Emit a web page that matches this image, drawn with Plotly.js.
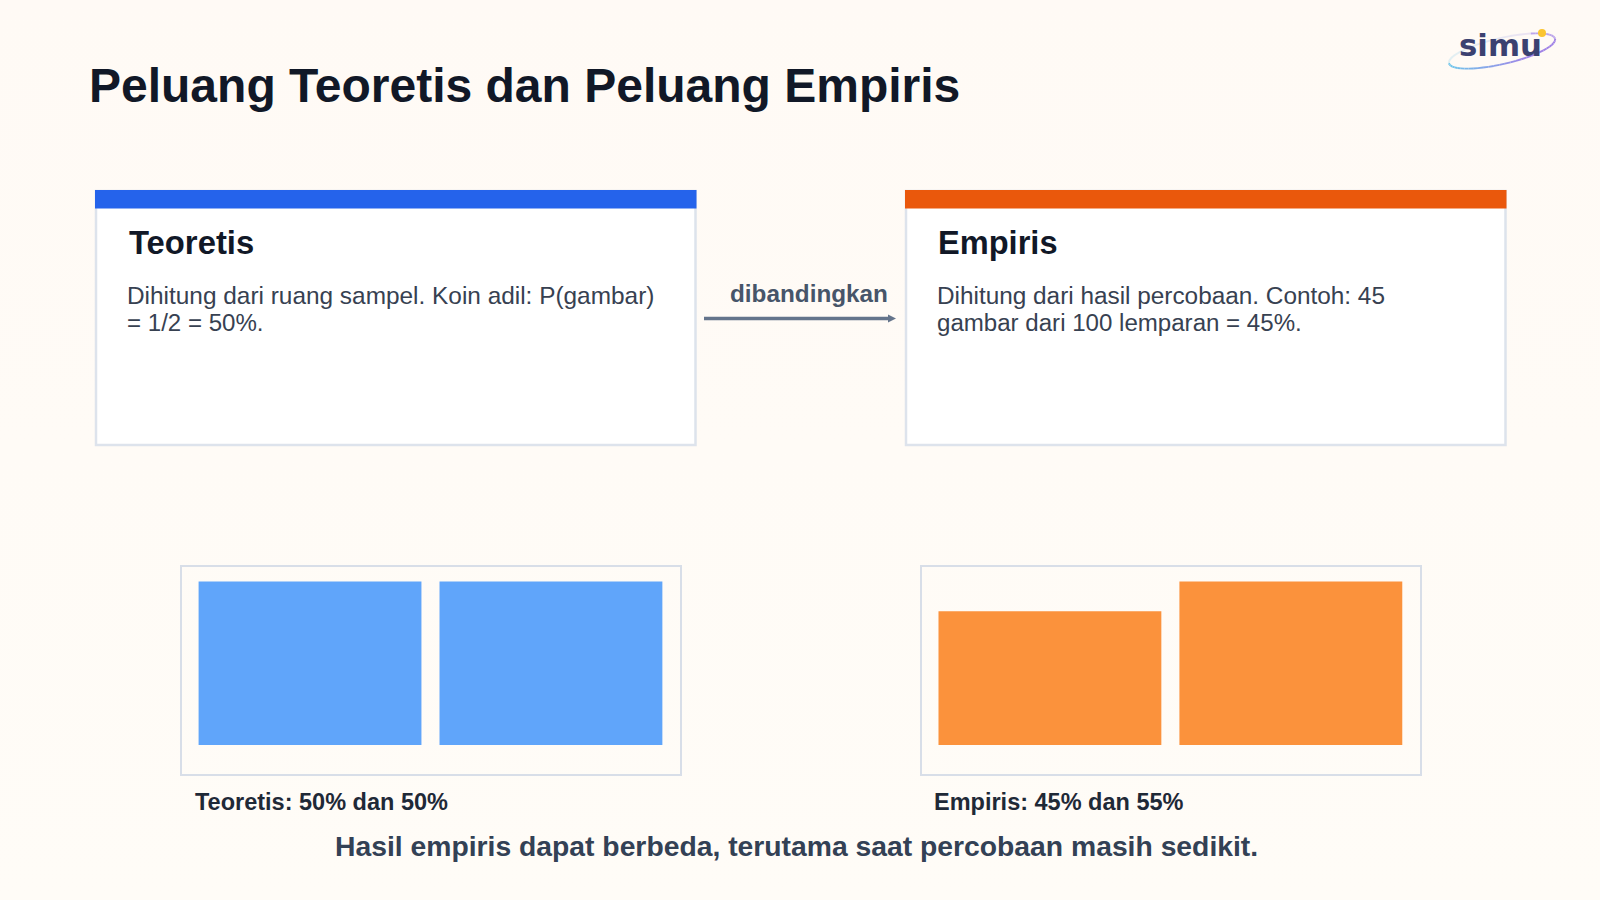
<!DOCTYPE html>
<html><head><meta charset="utf-8">
<script src="https://cdn.plot.ly/plotly-3.0.1.min.js"></script>
<style>html,body{margin:0;padding:0;background:linear-gradient(#fffaf5,#fffcf7);overflow:hidden;height:900px}#c{width:1600px;height:900px}</style>
</head><body><div id="c"></div>
<script>
const categories = ['Gambar', 'Angka'];
const teoretisValues = [50, 50];
const empirisValues = [45, 55];
const titleText = 'Peluang Teoretis dan Peluang Empiris';
const cardTitles = ['Teoretis', 'Empiris'];
const cardLines = [['Dihitung dari ruang sampel. Koin adil: P(gambar)', '= 1/2 = 50%.'],
                   ['Dihitung dari hasil percobaan. Contoh: 45', 'gambar dari 100 lemparan = 45%.']];
const compareLabel = 'dibandingkan';
const captions = ['Teoretis: 50% dan 50%', 'Empiris: 45% dan 55%'];
const footer = 'Hasil empiris dapat berbeda, terutama saat percobaan masih sedikit.';
const logoText = 'simu';

const W = 1600, H = 900;
const FONT = '"Liberation Sans", Arial, sans-serif';
const px = x => x / W, py = y => 1 - y / H;
const rect = (x0, y0, x1, y1, fill, line, lw) => ({type:'rect', xref:'paper', yref:'paper',
  x0:px(x0), x1:px(x1), y0:py(y0), y1:py(y1), fillcolor:fill, line:{color:line||fill, width:lw===undefined?0:lw}, layer:'below'});
const text = (t, x, y, size, color, bold, family) => ({text: t, xref:'paper', yref:'paper', x:px(x), y:py(y),
  xanchor:'left', yanchor:'middle', showarrow:false, align:'left', borderpad:0,
  font:{family:family||FONT, size, color, weight: bold?700:400}});

const shapes = [
  rect(96,191,695.5,445,'#ffffff','#dde3ec',2.5), rect(95,190,696.5,208.5,'#2563eb'),
  rect(906,191,1505.5,445,'#ffffff','#dde3ec',2.5), rect(905,190,1506.5,208.5,'#ea580c'),
  {type:'line', xref:'paper', yref:'paper', x0:px(704), x1:px(890), y0:py(318.5), y1:py(318.5), line:{color:'#64748b', width:3.5}},
  {type:'path', xref:'paper', yref:'paper', path:`M${px(888)},${py(314.5)} L${px(896)},${py(318.5)} L${px(888)},${py(322.5)} Z`, fillcolor:'#64748b', line:{width:0}}
];

// logo swoosh: tilted ellipse drawn as short coloured segments
(function(){
  const cx=1502, cy=51, a=54.5, b=13, tilt=-13*Math.PI/180, n=60;
  const pt=t=>{const u=a*Math.cos(t), v=b*Math.sin(t);
    return [cx+u*Math.cos(tilt)-v*Math.sin(tilt), cy+u*Math.sin(tilt)+v*Math.cos(tilt)];};
  const mix=(c,d,f)=>c.map((v,i)=>Math.round(v+(d[i]-v)*f));
  for(let i=0;i<n;i++){
    const t0=2*Math.PI*i/n, t1=2*Math.PI*(i+1)/n, [x0,y0]=pt(t0), [x1,y1]=pt(t1);
    const s=(x0-(cx-a))/(2*a);
    const col=mix([110,200,235],[160,130,230],Math.min(1,s*1.3));
    const top=Math.sin((t0+t1)/2)<0;
    shapes.push({type:'line', xref:'paper', yref:'paper', x0:px(x0),x1:px(x1),y0:py(y0),y1:py(y1),
      opacity: top?(x0>1530?0.7:0.2):1, line:{color:`rgb(${col})`, width:1.9}});
  }
  shapes.push({type:'circle', xref:'paper', yref:'paper', x0:px(1538),x1:px(1546),y0:py(37),y1:py(29), fillcolor:'#fbc531', line:{width:0}});
})();

const annotations = [
  text(titleText, 87.5, 85.5, 48, '#111827', true),
  text(cardTitles[0], 128, 242, 32.8, '#111827', true),
  text(cardTitles[1], 937, 242, 32.6, '#111827', true),
  text(cardLines[0][0], 126, 295.5, 24.4, '#374151'),
  text(cardLines[0][1], 126, 323, 24.08, '#374151'),
  text(cardLines[1][0], 936, 295.5, 24.35, '#374151'),
  text(cardLines[1][1], 936, 323, 24.08, '#374151'),
  text(compareLabel, 729, 293, 24.3, '#475569', true),
  text(captions[0], 194, 801.5, 23.5, '#1f2937', true),
  text(captions[1], 933, 801.5, 23.5, '#1f2937', true),
  text(footer, 334, 846, 28.3, '#334155', true),
  text(logoText, 1458, 45, 30.8, '#3b4170', true, '"DejaVu Sans", sans-serif')
];

const bar = (y, color, xa, ya) => ({type:'bar', x:[0,1], y, xaxis:xa, yaxis:ya, width:0.925,
  marker:{color, line:{width:0}}, hoverinfo:'skip', showlegend:false, customdata:categories});
const xAxis = (x0, x1) => ({domain:[px(x0),px(x1)], range:[-0.533,1.534], showgrid:false, zeroline:false, showticklabels:false,
  ticks:'', showline:true, mirror:true, linecolor:'#d8dee8', linewidth:2, fixedrange:true});
const yAxis = (range, anchor) => ({domain:[py(774),py(566.5)], range, anchor, showgrid:false, zeroline:false, showticklabels:false,
  ticks:'', showline:true, mirror:true, linecolor:'#d8dee8', linewidth:2, fixedrange:true});

Plotly.newPlot('c', [bar(teoretisValues,'#60a5fa','x','y'), bar(empirisValues,'#fb923c','x2','y2')], {
  width:W, height:H, margin:{l:0,r:0,t:0,b:0}, paper_bgcolor:'rgba(0,0,0,0)', plot_bgcolor:'rgba(0,0,0,0)',
  xaxis:xAxis(181.6,679.6), yaxis:yAxis([-8.87,54.62],'x'),
  xaxis2:Object.assign(xAxis(921.5,1419.5),{anchor:'y2'}), yaxis2:yAxis([-9.76,60.08],'x2'),
  shapes, annotations
}, {displayModeBar:false, staticPlot:true});
</script></body></html>
